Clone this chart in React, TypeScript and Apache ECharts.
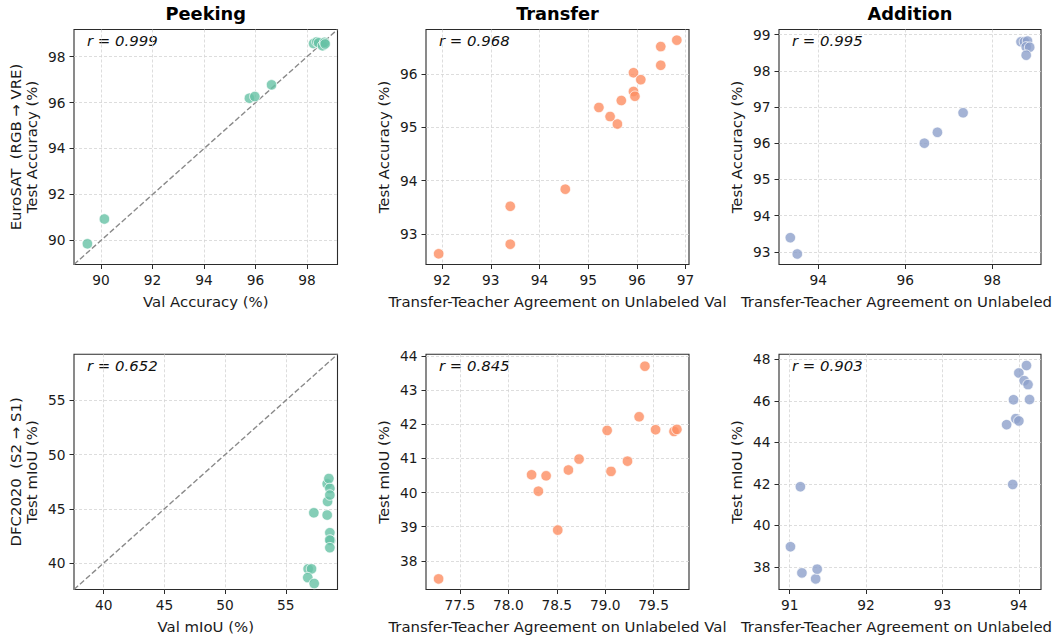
import React, { useEffect, useRef } from 'react';
import * as echarts from 'echarts';

const colTitles = ['Peeking', 'Transfer', 'Addition'];
const rLabels = ['r = 0.999', 'r = 0.968', 'r = 0.995', 'r = 0.652', 'r = 0.845', 'r = 0.903'];

const xNames = [
  'Val Accuracy (%)',
  'Transfer-Teacher Agreement on Unlabeled Val',
  'Transfer-Teacher Agreement on Unlabeled Val',
  'Val mIoU (%)',
  'Transfer-Teacher Agreement on Unlabeled Val',
  'Transfer-Teacher Agreement on Unlabeled Val',
];
const yNames = [
  'EuroSAT  (RGB → VRE)\nTest Accuracy (%)',
  'Test Accuracy (%)',
  'Test Accuracy (%)',
  'DFC2020  (S2 → S1)\nTest mIoU (%)',
  'Test mIoU (%)',
  'Test mIoU (%)',
];

// Panel 1: Peeking, EuroSAT
const peekEuroX = [89.47, 90.13, 95.76, 95.97, 96.62, 98.25, 98.38, 98.45, 98.6, 98.68, 98.7];
const peekEuroY = [89.85, 90.93, 96.19, 96.26, 96.77, 98.57, 98.64, 98.6, 98.47, 98.62, 98.55];
// Panel 2: Transfer, EuroSAT
const transEuroX = [91.93, 93.4, 93.4, 94.53, 95.22, 95.45, 95.6, 95.68, 95.93, 95.93, 95.96, 96.08, 96.49, 96.49, 96.82];
const transEuroY = [92.63, 92.81, 93.52, 93.84, 95.37, 95.2, 95.06, 95.5, 96.02, 95.67, 95.58, 95.89, 96.51, 96.16, 96.63];
// Panel 3: Addition, EuroSAT
const addEuroX = [93.36, 93.52, 96.44, 96.74, 97.33, 98.66, 98.74, 98.81, 98.78, 98.86, 98.78];
const addEuroY = [93.39, 92.94, 96.0, 96.3, 96.84, 98.8, 98.8, 98.82, 98.66, 98.65, 98.43];
// Panel 4: Peeking, DFC2020
const peekDfcX = [57.31, 58.41, 58.44, 58.41, 58.55, 58.63, 58.63, 58.63, 58.69, 58.62, 58.63, 56.84, 57.12, 56.81, 57.34];
const peekDfcY = [44.63, 44.42, 45.67, 47.3, 47.79, 46.88, 46.27, 42.79, 42.08, 42.12, 41.41, 39.45, 39.45, 38.65, 38.1];
// Panel 5: Transfer, DFC2020
const transDfcX = [77.28, 78.24, 78.31, 78.39, 78.51, 78.62, 78.73, 79.02, 79.06, 79.23, 79.35, 79.41, 79.52, 79.71, 79.74];
const transDfcY = [37.47, 40.52, 40.04, 40.49, 38.9, 40.66, 40.98, 41.82, 40.62, 40.92, 42.22, 43.7, 41.84, 41.79, 41.85];
// Panel 6: Addition, DFC2020
const addDfcX = [91.01, 91.14, 91.16, 91.34, 91.36, 93.92, 93.84, 93.96, 94.0, 93.93, 94.0, 94.07, 94.12, 94.14, 94.1];
const addDfcY = [38.97, 41.86, 37.71, 37.42, 37.89, 41.97, 44.85, 45.14, 45.03, 46.05, 47.34, 46.97, 46.78, 46.06, 47.7];

const panelX = [peekEuroX, transEuroX, addEuroX, peekDfcX, transDfcX, addDfcX];
const panelY = [peekEuroY, transEuroY, addEuroY, peekDfcY, transDfcY, addDfcY];

const xRanges = [[88.95, 99.18], [91.67, 97.07], [93.1, 99.12], [37.55, 59.26], [77.15, 79.865], [90.86, 94.29]];
const yRanges = [[88.95, 99.18], [92.43, 96.83], [92.65, 99.14], [37.55, 59.26], [37.16, 44.05], [36.91, 48.24]];

const xTicks = [
  [90, 92, 94, 96, 98],
  [92, 93, 94, 95, 96, 97],
  [94, 96, 98],
  [40, 45, 50, 55],
  [77.5, 78.0, 78.5, 79.0, 79.5],
  [91, 92, 93, 94],
];
const yTicks = [
  [90, 92, 94, 96, 98],
  [93, 94, 95, 96],
  [93, 94, 95, 96, 97, 98, 99],
  [40, 45, 50, 55],
  [38, 39, 40, 41, 42, 43, 44],
  [38, 40, 42, 44, 46, 48],
];
const xDecimals = [0, 0, 0, 0, 1, 0];

const diagonalPanels = [0, 3];
const colors = ['rgba(102,194,165,0.8)', 'rgba(252,141,98,0.8)', 'rgba(141,160,203,0.8)'];

const FONT = 'DejaVu Sans';
const lefts = [74, 426, 779];
const widths = [263.5, 263, 262];
const tops = [29.5, 354.3];
const heights = [235, 235.7];

export default function App() {
  const ref = useRef<HTMLDivElement>(null);
  useEffect(() => {
    if (!ref.current) return;
    const chart = echarts.init(ref.current, undefined, { renderer: 'svg' });
    const grids: any[] = [];
    const xAxes: any[] = [];
    const yAxes: any[] = [];
    const series: any[] = [];
    const graphics: any[] = [];
    for (let i = 0; i < 6; i++) {
      const col = i % 3;
      const row = Math.floor(i / 3);
      grids.push({
        left: lefts[col], top: tops[row], width: widths[col], height: heights[row],
        show: true, borderColor: '#2b2b2b', borderWidth: 1.1, backgroundColor: 'transparent',
      });
      const dec = xDecimals[i];
      xAxes.push({
        type: 'value', gridIndex: i, min: xRanges[i][0], max: xRanges[i][1],
        name: xNames[i], nameLocation: 'middle', nameGap: 29.5, nameMoveOverlap: false,
        nameTextStyle: { fontFamily: FONT, fontSize: 14.9, color: '#1a1a1a' },
        axisLine: { show: false },
        axisTick: { show: true, length: 4.5, lineStyle: { color: '#2b2b2b', width: 1 }, customValues: xTicks[i] },
        axisLabel: {
          show: true, margin: 8.5, customValues: xTicks[i], fontFamily: FONT, fontSize: 13.75, color: '#1a1a1a',
          formatter: (v: number) => v.toFixed(dec),
        },
        splitLine: { show: true, customValues: xTicks[i], lineStyle: { color: '#d4d4d4', width: 0.8, type: [3, 2] } },
      });
      yAxes.push({
        type: 'value', gridIndex: i, min: yRanges[i][0], max: yRanges[i][1],
        name: yNames[i], nameLocation: 'middle', nameGap: 33.5, nameRotate: 90, nameMoveOverlap: false,
        nameTextStyle: { fontFamily: FONT, fontSize: 14.9, color: '#1a1a1a', lineHeight: 16.5, align: 'center' },
        axisLine: { show: false },
        axisTick: { show: true, length: 4.5, lineStyle: { color: '#2b2b2b', width: 1 }, customValues: yTicks[i] },
        axisLabel: {
          show: true, margin: 8.5, customValues: yTicks[i], fontFamily: FONT, fontSize: 13.75, color: '#1a1a1a',
          formatter: (v: number) => String(v),
        },
        splitLine: { show: true, customValues: yTicks[i], lineStyle: { color: '#d4d4d4', width: 0.8, type: [3, 2] } },
      });
      if (diagonalPanels.includes(i)) {
        series.push({
          type: 'line', xAxisIndex: i, yAxisIndex: i, symbol: 'none', silent: true, z: 1,
          data: [[xRanges[i][0], xRanges[i][0]], [xRanges[i][1], xRanges[i][1]]],
          lineStyle: { color: '#8a8a8a', width: 1.4, type: [5.5, 2.5] },
        });
      }
      series.push({
        type: 'scatter', xAxisIndex: i, yAxisIndex: i, symbol: 'circle', symbolSize: 10.5, z: 3,
        data: panelX[i].map((x, k) => [x, panelY[i][k]]),
        itemStyle: { color: colors[col], borderColor: 'rgba(255,255,255,0.9)', borderWidth: 0.8, opacity: 1 },
      });
      graphics.push({
        type: 'text', left: lefts[col] + 13, top: tops[row] + 4,
        style: { text: rLabels[i], fontFamily: FONT, fontSize: 14.9, fontStyle: 'italic', fill: '#111' },
      });
    }
    for (let c = 0; c < 3; c++) {
      graphics.push({
        type: 'text', x: lefts[c] + widths[c] / 2, y: 13,
        style: { text: colTitles[c], fontFamily: FONT, fontSize: 17.8, fontWeight: 'bold', fill: '#000', align: 'center', verticalAlign: 'middle' },
      });
    }
    chart.setOption({
      animation: false,
      backgroundColor: '#ffffff',
      grid: grids,
      xAxis: xAxes,
      yAxis: yAxes,
      series,
      graphic: graphics,
    });
    return () => chart.dispose();
  }, []);
  // Wider than the 1052px viewport so the rightmost axis name overflows and is clipped, as in the reference.
  return <div ref={ref} style={{ position: 'fixed', left: 0, top: 0, width: 1120, height: 635 }} />;
}
